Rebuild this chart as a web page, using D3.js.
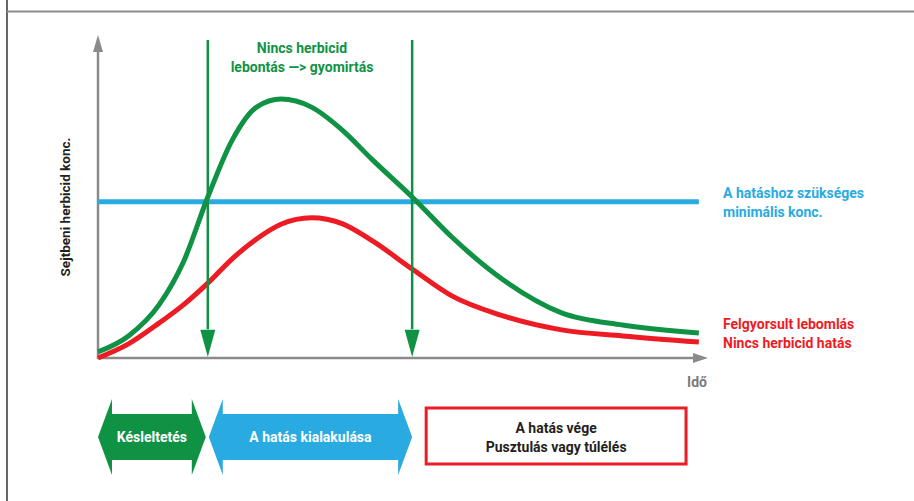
<!DOCTYPE html>
<html>
<head>
<meta charset="utf-8">
<script src="https://d3js.org/d3.v7.min.js"></script>
<style>
  body { margin: 0; padding: 0; background: #fff; }
  svg { display: block; font-family: Roboto, "Open Sans", sans-serif; font-weight: 700; }
</style>
</head>
<body>
<script>
// idő (tetszőleges egység) és koncentráció értékek
var time      = [0, 0.5, 1.0, 1.4, 1.8, 2.2, 2.6, 3.0, 3.5, 4.0, 4.5, 5.15, 5.8, 6.6, 7.6, 8.6, 9.85];
var nincsLeb  = [0.19, 0.69, 1.66, 3.0, 5.03, 6.81, 7.84, 8.09, 7.84, 7.13, 6.19, 5.03, 3.78, 2.5, 1.41, 1.03, 0.78];
var felgyors  = [0, 0.44, 1.09, 1.66, 2.34, 3.1, 3.72, 4.18, 4.38, 4.2, 3.66, 2.78, 1.94, 1.34, 0.88, 0.69, 0.5];
var threshold = 4.88;
var markers   = [1.8, 5.15];
var phases    = [
  {label: "Késleltetés", from: 0, to: 1.8},
  {label: "A hatás kialakulása", from: 1.8, to: 5.15},
  {label: ["A hatás vége", "Pusztulás vagy túlélés"], from: 5.38, to: 9.64}
];
var labelsTop   = ["Nincs herbicid", "lebontás —> gyomirtás"];
var labelsBlue  = ["A hatáshoz szükséges", "minimális konc."];
var labelsRed   = ["Felgyorsult lebomlás", "Nincs herbicid hatás"];

var W = 914, H = 501;
var GREEN = "#109245", BLUE = "#29abe2", RED = "#ed1c24", GRAY = "#8a8a8c", DARK = "#231f20";
var FS = 14;

var svg = d3.select("body").append("svg").attr("width", W).attr("height", H);

// keret
svg.append("line").attr("x1", 7).attr("x2", 7).attr("y1", 0).attr("y2", H)
   .attr("stroke", "#333").attr("stroke-width", 1.5);
svg.append("line").attr("x1", 7).attr("x2", W).attr("y1", 11.5).attr("y2", 11.5)
   .attr("stroke", "#8c8c8c").attr("stroke-width", 2);

var x = d3.scaleLinear().domain([0, 10]).range([98, 708]);
var y = d3.scaleLinear().domain([0, 10]).range([358, 38]);

// tengelyek
var xAxis = svg.append("g").attr("transform", "translate(0," + y(0) + ")")
   .call(d3.axisBottom(x).tickValues([]).tickSizeOuter(0));
var yAxis = svg.append("g").attr("transform", "translate(" + x(0) + ",0)")
   .call(d3.axisLeft(y.copy().domain([0, 10.1])).tickValues([]).tickSizeOuter(0));
[xAxis, yAxis].forEach(function(a) {
  a.select(".domain").attr("stroke", GRAY).attr("stroke-width", 2.5);
});
xAxis.select(".domain").attr("d", "M" + x(0) + ",0H" + (x(10) - 10));
yAxis.select(".domain").attr("d", "M0," + (y(0) + 1) + "V" + (y(10) + 4));

// nyílhegyek
svg.append("path")
   .attr("d", "M" + x(10) + "," + y(0) + "L" + (x(10) - 15) + "," + (y(0) - 5) + "L" + (x(10) - 15) + "," + (y(0) + 5) + "Z")
   .attr("fill", GRAY);
svg.append("path")
   .attr("d", "M" + x(0) + "," + (y(10) - 3) + "L" + (x(0) - 5) + "," + (y(10) + 14) + "L" + (x(0) + 5) + "," + (y(10) + 14) + "Z")
   .attr("fill", GRAY);

svg.append("text").attr("x", 707).attr("y", 387).attr("text-anchor", "end")
   .attr("fill", "#7a7a7c").attr("font-size", FS).text("Idő");

svg.append("text")
   .attr("transform", "translate(70,207) rotate(-90)")
   .attr("text-anchor", "middle").attr("fill", DARK).attr("font-size", 13.5)
   .text("Sejtbeni herbicid konc.");

// küszöb
svg.append("line")
   .attr("x1", x(0)).attr("x2", x(9.85)).attr("y1", y(threshold)).attr("y2", y(threshold))
   .attr("stroke", BLUE).attr("stroke-width", 5);

// görbék
var line = d3.line().x(function(d) { return x(d[0]); }).y(function(d) { return y(d[1]); })
   .curve(d3.curveMonotoneX);

svg.append("path").datum(d3.zip(time, felgyors)).attr("d", line)
   .attr("fill", "none").attr("stroke", RED).attr("stroke-width", 5);
svg.append("path").datum(d3.zip(time, nincsLeb)).attr("d", line)
   .attr("fill", "none").attr("stroke", GREEN).attr("stroke-width", 5);

// függőleges nyilak
markers.forEach(function(t) {
  var cx = x(t);
  svg.append("line").attr("x1", cx).attr("x2", cx).attr("y1", y(9.94)).attr("y2", y(0.9))
     .attr("stroke", GREEN).attr("stroke-width", 2.5);
  svg.append("path")
     .attr("d", "M" + (cx - 7.5) + "," + y(0.88) + "L" + (cx + 7.5) + "," + y(0.88) + "L" + cx + "," + (y(0) - 1) + "Z")
     .attr("fill", GREEN);
});

function lines(sel, data, xPos) {
  sel.selectAll("tspan").data(data).enter().append("tspan")
     .attr("x", xPos).attr("dy", function(d, i) { return i ? 19 : 0; })
     .text(function(d) { return d; });
}

lines(svg.append("text").attr("y", 53).attr("text-anchor", "middle")
   .attr("fill", GREEN).attr("font-size", FS), labelsTop, 302);
lines(svg.append("text").attr("y", 198).attr("fill", BLUE).attr("font-size", FS), labelsBlue, 723);
lines(svg.append("text").attr("y", 329).attr("fill", RED).attr("font-size", FS), labelsRed, 723);

// fázisok
var cy = 437, headL = 14, headH = 38, bodyH = 23;
function doubleArrow(x0, x1) {
  return "M" + x0 + "," + cy +
    "L" + (x0 + headL) + "," + (cy - headH) + "V" + (cy - bodyH) +
    "H" + (x1 - headL) + "V" + (cy - headH) +
    "L" + x1 + "," + cy +
    "L" + (x1 - headL) + "," + (cy + headH) + "V" + (cy + bodyH) +
    "H" + (x0 + headL) + "V" + (cy + headH) + "Z";
}
[GREEN, BLUE].forEach(function(c, i) {
  var p = phases[i];
  var x0 = x(p.from) + (i ? 1 : 0), x1 = x(p.to) - (i ? 0 : 2);
  svg.append("path").attr("d", doubleArrow(x0, x1)).attr("fill", c);
  svg.append("text").attr("x", (x0 + x1) / 2).attr("y", cy + 5).attr("text-anchor", "middle")
     .attr("fill", "#fff").attr("font-size", FS).text(p.label);
});

var last = phases[2];
svg.append("rect").attr("x", x(last.from)).attr("y", 408)
   .attr("width", x(last.to) - x(last.from)).attr("height", 56)
   .attr("fill", "none").attr("stroke", RED).attr("stroke-width", 3);
lines(svg.append("text").attr("y", 433).attr("text-anchor", "middle").attr("fill", DARK).attr("font-size", FS),
   last.label, (x(last.from) + x(last.to)) / 2);
</script>
</body>
</html>
